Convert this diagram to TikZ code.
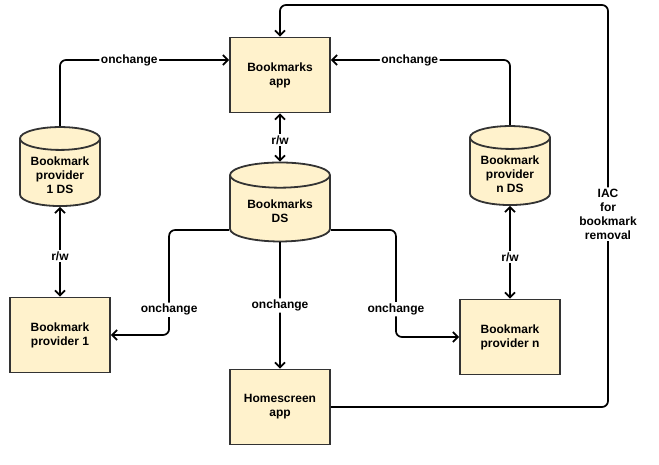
\documentclass[tikz,border=0pt]{standalone}
\usepackage{fontspec}
\setmainfont{Liberation Sans}
\usetikzlibrary{arrows.meta,shapes.geometric}
\definecolor{boxfill}{HTML}{FFF2CC}
\definecolor{boxline}{HTML}{333333}

\begin{document}
\begin{tikzpicture}[x=1pt, y=-1pt, font=\bfseries\fontsize{12}{14}\selectfont, >={Straight Barb[length=5pt,width=10pt]},
  box/.style={draw=boxline, fill=boxfill, line width=1.8pt, align=center, minimum width=100pt, minimum height=75pt},
  store/.style={cylinder, shape border rotate=90, aspect=0.35, draw=boxline, fill=boxfill, line width=1.8pt, align=center, minimum width=#1, minimum height=79pt},
  flow/.style={->, line width=1.7pt, rounded corners=6pt},
  rw/.style={<->, line width=1.7pt},
  lbl/.style={fill=white, inner sep=1.5pt}]
  \useasboundingbox (0,0) rectangle (659,465);
  \node[box] (app) at (280,75) {Bookmarks\\app};
  \node[store=100pt] (bds) at (280,211) {Bookmarks\\DS};
  \node[store=80pt] (p1ds) at (60,175) {Bookmark\\provider\\1 DS};
  \node[store=80pt] (pnds) at (510,174) {Bookmark\\provider\\n DS};
  \node[box] (p1) at (60,335) {Bookmark\\provider 1};
  \node[box] (pn) at (510,337) {Bookmark\\provider n};
  \node[box] (home) at (280,407) {Homescreen\\app};
  \coordinate (iac) at (608,5);
  % provider stores notify the app
  \draw[flow] (p1ds.north) |- node[lbl, pos=0.705] {onchange} ([yshift=15pt]app.west);
  \draw[flow] (pnds.north) |- node[lbl, pos=0.78] {onchange} ([yshift=15pt]app.east);
  % read / write
  \draw[rw] (app) -- node[lbl, pos=0.55] {r/w} (bds);
  \draw[rw] (p1ds) -- node[lbl, pos=0.55] {r/w} (p1);
  \draw[rw] (pnds) -- node[lbl, pos=0.55] {r/w} (pn);
  % bookmarks store notifies
  \draw[flow] ([yshift=-19pt]bds.west) -- ++(-60,0) |- node[lbl, pos=0.38] {onchange} (p1.east);
  \draw[flow] ([yshift=-19pt]bds.east) -- ++(65,0) |- node[lbl, pos=0.37] {onchange} (pn.west);
  \draw[flow] (bds) -- node[lbl] {onchange} (home);
  \draw[flow] (home.east) -| node[lbl, pos=0.74, align=center] {IAC\\for\\bookmark\\removal} (iac) -| (app.north);
\end{tikzpicture}
\end{document}
